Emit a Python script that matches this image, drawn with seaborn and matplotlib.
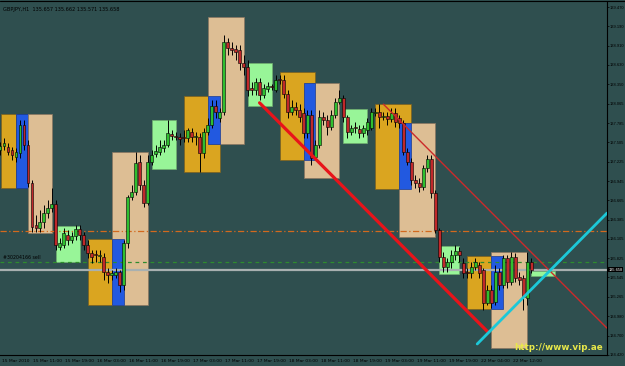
import matplotlib
matplotlib.use("Agg")
import matplotlib.pyplot as plt
import matplotlib.transforms as mtransforms
from matplotlib.patches import Rectangle
import numpy as np
import pandas as pd
import seaborn as sns

# ---------------- data (GBPJPY H1, prices) ----------------
opens = [137.40, 137.45, 137.44, 137.40, 137.29, 137.35, 137.76, 137.47, 136.92, 136.31,
         136.26, 136.35, 136.48, 136.55, 136.61, 135.99, 136.02, 136.16, 136.09, 136.15,
         136.25, 136.16, 136.02, 135.90, 135.87, 135.86, 135.84, 135.62, 135.58, 135.58,
         135.62, 135.44, 136.05, 136.71, 136.79, 137.22, 136.89, 136.63, 137.22, 137.34,
         137.37, 137.42, 137.47, 137.63, 137.58, 137.58, 137.57, 137.57, 137.66, 137.58,
         137.58, 137.35, 137.66, 137.76, 138.03, 137.86, 137.95, 138.96, 138.88, 138.86,
         138.85, 138.66, 138.60, 138.30, 138.27, 138.38, 138.19, 138.28, 138.31, 138.27,
         138.41, 138.41, 138.21, 137.95, 138.02, 137.98, 137.93, 137.64, 137.90, 137.29,
         137.47, 137.87, 137.83, 137.73, 137.90, 138.09, 138.15, 137.87, 137.66, 137.71,
         137.70, 137.64, 137.69, 137.71, 137.93, 137.95, 137.87, 137.89, 137.85, 137.93,
         137.86, 137.79, 137.37, 137.22, 136.96, 136.92, 136.86, 137.13, 137.27, 136.77,
         136.23, 135.84, 135.70, 135.77, 135.87, 135.93, 135.76, 135.61, 135.61, 135.70,
         135.73, 135.65, 135.17, 135.36, 135.19, 135.62, 135.44, 135.83, 135.48, 135.84,
         135.55, 135.54, 135.25, 135.77]
highs = [137.51, 137.57, 137.50, 137.44, 137.42, 137.83, 137.83, 137.54, 136.96, 136.45,
         136.52, 136.60, 136.67, 136.84, 136.67, 136.12, 136.26, 136.23, 136.21, 136.31,
         136.31, 136.21, 136.09, 135.94, 135.94, 135.94, 135.90, 135.68, 135.65, 135.68,
         135.65, 136.09, 136.74, 136.89, 137.37, 137.32, 136.96, 137.32, 137.40, 137.47,
         137.54, 137.54, 137.83, 137.69, 137.66, 137.64, 137.69, 137.71, 137.71, 137.66,
         137.64, 137.71, 137.86, 138.12, 138.12, 138.00, 139.06, 139.02, 138.96, 138.92,
         138.92, 138.77, 138.70, 138.38, 138.44, 138.44, 138.35, 138.38, 138.35, 138.48,
         138.48, 138.48, 138.27, 138.12, 138.09, 138.06, 138.00, 137.98, 137.98, 137.54,
         137.98, 137.95, 137.90, 137.98, 138.15, 138.27, 138.19, 137.90, 137.76, 137.80,
         137.76, 137.76, 137.86, 138.00, 138.00, 138.06, 137.95, 137.95, 138.00, 138.00,
         137.90, 137.83, 137.42, 137.28, 137.03, 136.99, 137.18, 137.32, 137.32, 136.81,
         136.26, 135.92, 135.83, 135.94, 136.02, 135.99, 135.83, 135.68, 135.77, 135.83,
         135.77, 135.68, 135.44, 135.44, 135.73, 135.68, 135.87, 135.87, 135.92, 135.90,
         135.62, 135.58, 135.92, 135.83]
lows = [137.32, 137.40, 137.32, 137.25, 137.22, 137.28, 137.40, 136.86, 136.21, 136.21,
        136.21, 136.26, 136.41, 136.50, 135.94, 135.94, 135.97, 136.02, 136.05, 136.09,
        136.09, 135.94, 135.83, 135.76, 135.77, 135.77, 135.51, 135.47, 135.51, 135.54,
        135.33, 135.36, 135.97, 136.67, 136.74, 136.81, 136.57, 136.60, 137.18, 137.29,
        137.32, 137.37, 137.44, 137.54, 137.54, 137.47, 137.51, 137.51, 137.51, 137.47,
        137.08, 137.28, 137.61, 137.71, 137.86, 137.80, 137.90, 138.77, 138.77, 138.70,
        138.56, 138.48, 138.18, 138.19, 138.19, 138.12, 138.15, 138.24, 138.27, 138.24,
        138.35, 138.15, 137.86, 137.90, 137.90, 137.80, 137.57, 137.57, 137.18, 137.25,
        137.42, 137.76, 137.61, 137.69, 137.86, 138.06, 137.80, 137.57, 137.61, 137.64,
        137.57, 137.58, 137.61, 137.69, 137.89, 137.71, 137.83, 137.76, 137.80, 137.73,
        137.71, 137.32, 137.18, 136.89, 136.84, 136.79, 136.81, 137.08, 136.70, 136.19,
        135.77, 135.62, 135.62, 135.68, 135.80, 135.77, 135.54, 135.54, 135.54, 135.65,
        135.54, 135.07, 135.15, 135.10, 135.15, 135.36, 135.39, 135.39, 135.44, 135.48,
        135.44, 135.07, 135.15, 135.61]
closes = [137.45, 137.50, 137.37, 137.32, 137.37, 137.76, 137.47, 136.92, 136.28, 136.26,
          136.35, 136.48, 136.55, 136.61, 136.02, 136.05, 136.19, 136.09, 136.15, 136.25,
          136.16, 136.02, 135.90, 135.84, 135.86, 135.87, 135.62, 135.58, 135.61, 135.62,
          135.44, 136.05, 136.71, 136.79, 137.21, 136.89, 136.63, 137.22, 137.32, 137.38,
          137.44, 137.47, 137.64, 137.60, 137.57, 137.55, 137.56, 137.69, 137.58, 137.60,
          137.35, 137.66, 137.76, 138.03, 137.95, 137.95, 138.96, 138.88, 138.85, 138.82,
          138.66, 138.60, 138.27, 138.27, 138.38, 138.19, 138.30, 138.32, 138.30, 138.41,
          138.40, 138.21, 137.95, 138.02, 137.98, 137.87, 137.64, 137.90, 137.28, 137.47,
          137.87, 137.83, 137.73, 137.90, 138.09, 138.15, 137.87, 137.66, 137.71, 137.70,
          137.64, 137.71, 137.80, 137.95, 137.95, 137.87, 137.88, 137.85, 137.93, 137.80,
          137.79, 137.37, 137.22, 136.96, 136.92, 136.86, 137.13, 137.27, 136.77, 136.23,
          135.84, 135.70, 135.77, 135.87, 135.93, 135.87, 135.61, 135.60, 135.70, 135.77,
          135.61, 135.17, 135.36, 135.17, 135.62, 135.44, 135.83, 135.48, 135.84, 135.54,
          135.51, 135.26, 135.77, 135.66]

# zone boxes: kind, first bar, last bar, top price, bottom price
box_kind = ["orange", "blue", "tan", "green",
            "orange", "tan", "blue", "green",
            "orange", "tan", "blue", "green",
            "orange", "tan", "blue", "green",
            "orange", "tan", "blue", "green",
            "orange", "tan", "blue", "green"]
box_start = [0.25, 4, 7, 14,
             22, 28, 28, 38,
             46, 52, 52, 62,
             70, 76, 76, 86,
             94, 100, 100, 110,
             117, 123, 123, 133]
box_end = [4, 7, 13, 20,
           28, 37, 31, 44,
           55, 61, 55, 68,
           79, 85, 79, 92,
           103, 109, 103, 115,
           123, 132, 126, 139]
box_top = [137.92, 137.92, 137.92, 136.29,
           136.10, 137.37, 136.10, 137.83,
           138.18, 139.33, 138.18, 138.66,
           138.53, 138.37, 138.37, 137.99,
           138.06, 137.79, 137.79, 136.00,
           135.86, 135.92, 135.86, 135.64]
box_bottom = [136.84, 136.84, 136.19, 135.77,
              135.15, 135.15, 135.15, 137.12,
              137.08, 137.48, 137.48, 138.03,
              137.25, 136.99, 137.25, 137.50,
              136.83, 136.13, 136.83, 135.60,
              135.09, 134.52, 135.09, 135.57]

# trend lines (bar, price) endpoints
thick_red_x = [65, 122.25]
thick_red_y = [138.08, 134.75]
thin_red_x = [96, 152]
thin_red_y = [138.06, 134.81]
cyan_x = [119.5, 152]
cyan_y = [134.58, 136.48]

level_orange = 136.22
level_green = 135.77
bid_price = 135.658

x_tick_bars = [0, 8, 16, 24, 32, 40, 48, 56, 64, 72, 80, 88, 96, 104, 112, 120, 128]
x_tick_labels = ["15 Mar 2010", "15 Mar 11:00", "15 Mar 19:00", "16 Mar 03:00",
                 "16 Mar 11:00", "16 Mar 19:00", "17 Mar 03:00", "17 Mar 11:00",
                 "17 Mar 19:00", "18 Mar 03:00", "18 Mar 11:00", "18 Mar 19:00",
                 "19 Mar 03:00", "19 Mar 11:00", "19 Mar 19:00", "22 Mar 04:00",
                 "22 Mar 12:00"]
y_tick_values = [139.470, 139.190, 138.910, 138.630, 138.350, 138.065, 137.785,
                 137.505, 137.225, 136.945, 136.665, 136.385, 136.105, 135.825,
                 135.545, 135.265, 134.980, 134.700, 134.420]

# ---------------- styling ----------------
BG = "#2F4F4F"
sns.set_theme(style="dark", rc={"axes.facecolor": BG, "figure.facecolor": BG})
plt.rcParams["font.family"] = ["DejaVu Sans"]
NARROW = ["Liberation Sans", "DejaVu Sans"]

box_colors = {"orange": "#DAA520", "blue": "#2259E0", "tan": "#DDBE94", "green": "#98F598"}
box_edges = {"orange": "#7A6020", "blue": "#1A3A90", "tan": "#8A7560", "green": "#70B070"}

fig = plt.figure(figsize=(6.25, 3.66), dpi=100)
ax = fig.add_axes([0.0, 11 / 366, 607 / 625, 353 / 366])
ax.set_facecolor(BG)

# boxes
for k, x0, x1, yt, yb in zip(box_kind, box_start, box_end, box_top, box_bottom):
    ax.add_patch(Rectangle((x0, yb), x1 - x0, yt - yb, facecolor=box_colors[k],
                           edgecolor=box_edges[k], linewidth=0.5, zorder=1))

# horizontal levels
ax.axhline(level_orange, color="#D2691E", lw=0.9, ls=(0, (5, 2, 1, 2)), zorder=2)
ax.axhline(level_green, color="#2E8B2E", lw=0.9, ls=(0, (3, 3)), zorder=2)
ax.axhline(bid_price, color="#A8B0B0", lw=1.6, zorder=2)

# candles
df = pd.DataFrame({"bar": np.arange(len(opens)), "open": opens, "high": highs,
                   "low": lows, "close": closes})
df["bull"] = df["close"] >= df["open"]
ax.vlines(df["bar"], df["low"], df["high"], color="black", lw=0.7, zorder=3)
body = (df["close"] - df["open"]).where(lambda s: s.abs() > 0.012, 0.012)
ax.bar(df["bar"], body, bottom=df["open"], width=0.72,
       color=np.where(df["bull"], "#2FBF2F", "#C0282A"),
       edgecolor="black", linewidth=0.4, zorder=4)

# trend lines via seaborn
sns.lineplot(x=thick_red_x, y=thick_red_y, ax=ax, color="#E8141A", lw=2.3, zorder=5)
sns.lineplot(x=thin_red_x, y=thin_red_y, ax=ax, color="#CC2A2A", lw=1.0, zorder=5)
sns.lineplot(x=cyan_x, y=cyan_y, ax=ax, color="#1CC8D8", lw=2.0, zorder=5)

# axes limits & ticks
FS = 3.2
ax.set_xlim(0.25, 152)
ax.set_ylim(134.421, 139.543)
ax.yaxis.tick_right()
ax.set_yticks(y_tick_values)
ax.set_yticklabels([f"{v:.3f}" for v in y_tick_values], fontsize=2.9, color="black",
                   family=NARROW)
ax.set_xticks(x_tick_bars)
ax.set_xticklabels(x_tick_labels, fontsize=FS, color="black", ha="left")
ax.tick_params(axis="y", direction="out", length=1.3, width=0.5, color="black", pad=0.5)
ax.tick_params(axis="x", direction="out", length=2, width=0.5, color="black", pad=1)
offset = mtransforms.ScaledTranslation(1.5 / 100, 0, fig.dpi_scale_trans)
for lab in ax.get_xticklabels():
    lab.set_transform(lab.get_transform() + offset)
ax.grid(False)
for side in ["left", "top"]:
    ax.spines[side].set_visible(False)
for side in ["right", "bottom"]:
    ax.spines[side].set_visible(True)
    ax.spines[side].set_color("black")
    ax.spines[side].set_linewidth(0.8)
ax.set_xlabel("")
ax.set_ylabel("")

# texts
ax.text(0.005, 0.985, "GBPJPY,H1  135.657 135.662 135.571 135.658", transform=ax.transAxes,
        fontsize=3.6, color="black", va="top", ha="left")
ax.text(0.8, 135.83, "#30204166 sell", fontsize=3.4, color="black", va="center", ha="left")
ax.text(0.994, 0.008, "http://www.vip.ae", transform=ax.transAxes, fontsize=6.3,
        color="#E8E84A", fontweight="bold", ha="right", va="bottom", zorder=6)
trans = mtransforms.blended_transform_factory(ax.transAxes, ax.transData)
ax.text(1.002, bid_price, "135.658", transform=trans, fontsize=2.8, color="white",
        family=NARROW, ha="left", va="center", zorder=7,
        bbox=dict(boxstyle="square,pad=0.1", facecolor="black", edgecolor="none"))

fig.add_artist(plt.Line2D([0, 1], [0.997, 0.997], color="black", lw=0.8))
fig.savefig("out.png", dpi=100, facecolor=BG)
